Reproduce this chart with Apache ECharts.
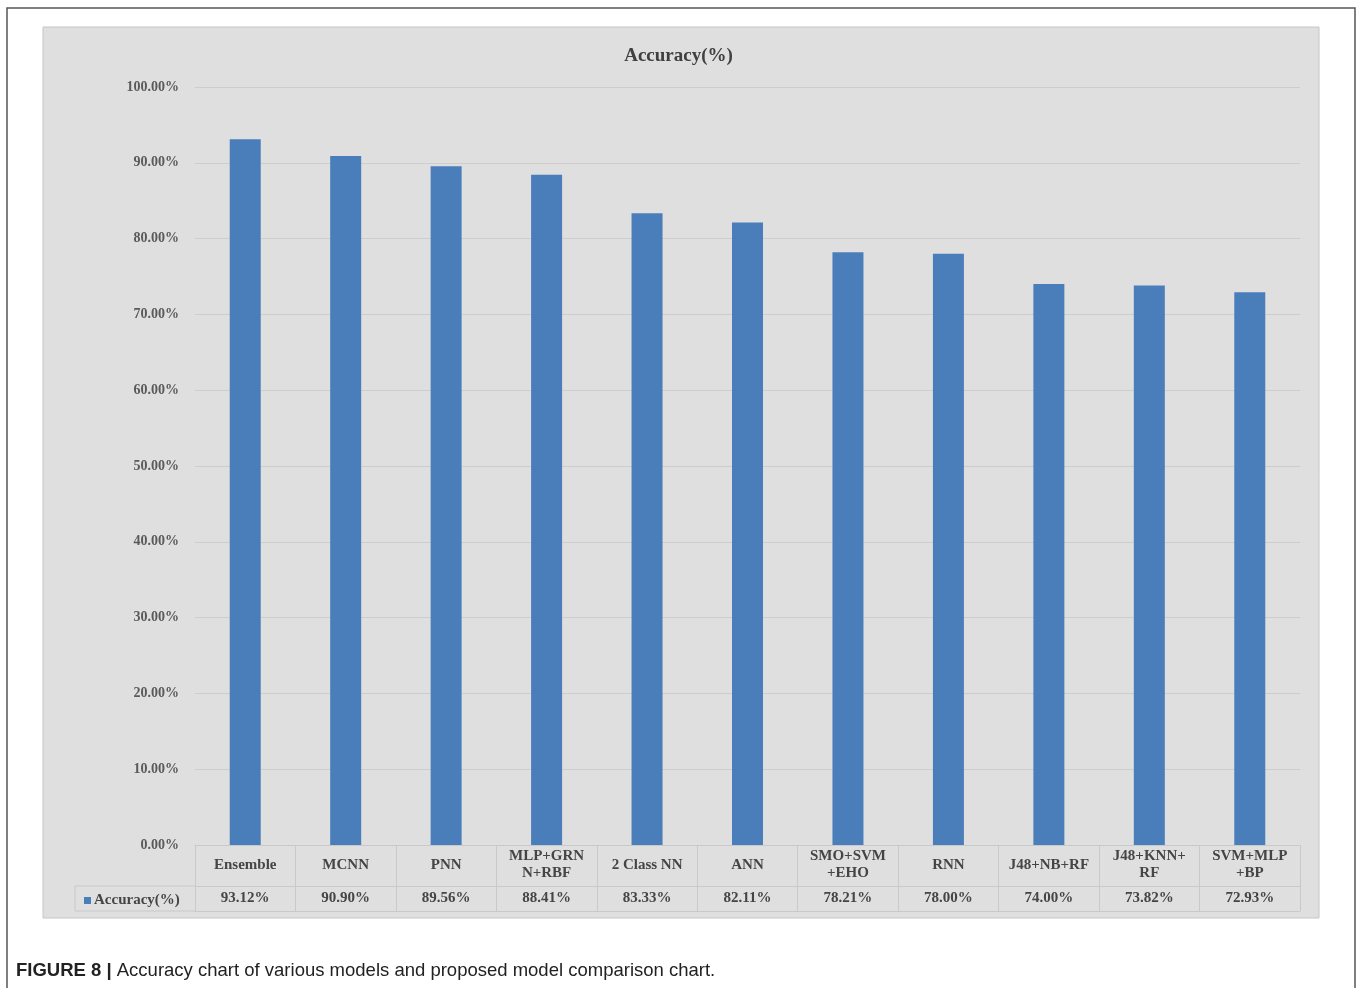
<!DOCTYPE html>
<html>
<head>
<meta charset="utf-8">
<script src="https://cdn.jsdelivr.net/npm/echarts@6/dist/echarts.min.js"></script>
<style>
  html, body { margin: 0; padding: 0; background: #ffffff; }
  #chart { width: 1357px; height: 988px; }
</style>
</head>
<body>
<div id="chart"></div>
<script>
// Model names as shown in the data table (line breaks where the cell wraps)
const categories = [
  'Ensemble', 'MCNN', 'PNN', 'MLP+GRN\nN+RBF', '2 Class NN', 'ANN',
  'SMO+SVM\n+EHO', 'RNN', 'J48+NB+RF', 'J48+KNN+\nRF', 'SVM+MLP\n+BP'
];
// Accuracy of each model, in percent
const accuracy = [93.12, 90.90, 89.56, 88.41, 83.33, 82.11, 78.21, 78.00, 74.00, 73.82, 72.93];
// Value-axis ticks
const yTicks = { min: 0, max: 100, step: 10 };
const seriesName = 'Accuracy(%)';

const serif = '"Liberation Serif", "DejaVu Serif", serif';
const textColor = '#454545';
const tableLine = '#c9c9c9';

const chart = echarts.init(document.getElementById('chart'), null, { renderer: 'canvas' });

const option = {
  backgroundColor: '#ffffff',
  animation: false,
  title: {
    text: 'Accuracy(%)',
    left: 'center',
    top: 42,
    textStyle: { fontFamily: serif, fontSize: 19, fontWeight: 'bold', color: '#404040' }
  },
  legend: {
    data: [seriesName],
    left: 79,
    top: 888,
    icon: 'rect',
    itemWidth: 7,
    itemHeight: 7,
    itemGap: 4,
    textStyle: { fontFamily: serif, fontSize: 15, fontWeight: 'bold', color: textColor, padding: [0, 0, 0, -2] }
  },
  grid: { left: 195, right: 57, top: 87, bottom: 143, containLabel: false },
  xAxis: [
    {
      // category row of the data table
      type: 'category',
      data: categories,
      position: 'bottom',
      boundaryGap: true,
      axisLine: { show: true, lineStyle: { color: tableLine, width: 1 } },
      axisTick: { show: true, interval: 0, alignWithLabel: false, inside: false, length: 66, lineStyle: { color: tableLine } },
      axisLabel: {
        interval: 0,
        margin: 20,
        verticalAlign: 'middle',
        lineHeight: 17,
        fontFamily: serif,
        fontSize: 15,
        fontWeight: 'bold',
        color: textColor
      },
      splitLine: { show: false }
    },
    {
      // value row of the data table
      type: 'category',
      data: categories,
      position: 'bottom',
      offset: 41,
      boundaryGap: true,
      axisLine: { show: true, lineStyle: { color: tableLine, width: 1 } },
      axisTick: { show: false },
      axisLabel: {
        interval: 0,
        margin: 12,
        verticalAlign: 'middle',
        fontFamily: serif,
        fontSize: 15,
        fontWeight: 'bold',
        color: textColor,
        formatter: (v, i) => accuracy[i].toFixed(2) + '%'
      },
      splitLine: { show: false }
    },
    {
      // bottom border of the data table
      type: 'category',
      data: categories,
      position: 'bottom',
      offset: 66,
      axisLine: { show: true, lineStyle: { color: tableLine, width: 1 } },
      axisTick: { show: false },
      axisLabel: { show: false }
    }
  ],
  yAxis: {
    type: 'value',
    min: yTicks.min,
    max: yTicks.max,
    interval: yTicks.step,
    axisLine: { show: false },
    axisTick: { show: false },
    axisLabel: {
      margin: 16,
      fontFamily: serif,
      fontSize: 14,
      fontWeight: 'bold',
      color: '#5a5a5a',
      formatter: v => v.toFixed(2) + '%'
    },
    splitLine: { show: true, lineStyle: { color: '#cdcdcd', width: 1 } }
  },
  series: [
    {
      name: seriesName,
      type: 'bar',
      data: accuracy,
      barWidth: 31,
      itemStyle: { color: '#4a7ebb' },
      label: { show: false }
    }
  ],
  graphic: [
    // chart area background
    {
      type: 'rect', z: -10, silent: true,
      shape: { x: 43, y: 27, width: 1276, height: 891 },
      style: { fill: '#dfdfdf', stroke: '#c6c6c6', lineWidth: 1 }
    },
    // outer figure frame
    {
      type: 'polyline', z: -5, silent: true,
      shape: { points: [[7, 988], [7, 8], [1355, 8], [1355, 988]] },
      style: { stroke: '#555555', lineWidth: 1.5, fill: null }
    },
    // legend cell borders of the data table
    {
      type: 'polyline', z: 5, silent: true,
      shape: { points: [[195, 886], [75, 886], [75, 911], [195, 911]] },
      style: { stroke: tableLine, lineWidth: 1, fill: null }
    },
    // figure caption
    {
      type: 'text', silent: true,
      left: 16, top: 961,
      style: {
        text: '{b|FIGURE 8 |} Accuracy chart of various models and proposed model comparison chart.',
        font: '18.5px "Liberation Sans", Arial, sans-serif',
        fill: '#222222',
        rich: {
          b: { fontFamily: '"Liberation Sans", Arial, sans-serif', fontSize: 18.5, fontWeight: 'bold', fill: '#222222' }
        }
      }
    }
  ]
};

chart.setOption(option);
</script>
</body>
</html>
